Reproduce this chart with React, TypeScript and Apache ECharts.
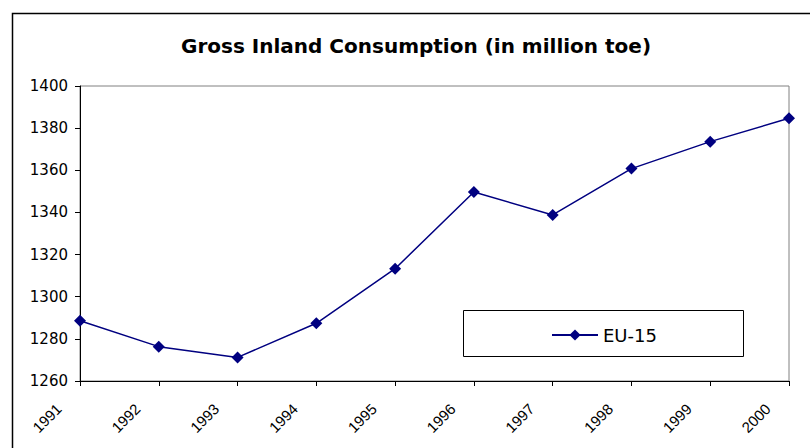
import React, { useEffect, useRef } from "react";
import * as echarts from "echarts";

const years = ["1991", "1992", "1993", "1994", "1995", "1996", "1997", "1998", "1999", "2000"];
const eu15 = [1288.6, 1276.3, 1271.2, 1287.4, 1313.3, 1349.7, 1338.8, 1360.8, 1373.6, 1384.7];
const seriesName = "EU-15";
const titleText = "Gross Inland Consumption (in million toe)";

const FONT = "'DejaVu Sans', 'Liberation Sans', Arial, sans-serif";
const FONT2 = "'Liberation Sans', Arial, sans-serif";

export default function App() {
  const ref = useRef<HTMLDivElement>(null);
  useEffect(() => {
    if (!ref.current) return;
    const chart = echarts.init(ref.current, null, { renderer: "svg" });
    chart.setOption({
      animation: false,
      backgroundColor: "#ffffff",
      title: {
        text: titleText,
        left: 176,
        top: 31,
        textStyle: { fontFamily: FONT, fontSize: 20, fontWeight: "bold", color: "#000" },
      },
      graphic: [
        {
          type: "rect",
          shape: { x: 12.5, y: 13.5, width: 900, height: 600 },
          style: { fill: "none", stroke: "#000", lineWidth: 1.5 },
          silent: true,
          z: 0,
        },
        {
          type: "rect",
          shape: { x: 463.5, y: 310.5, width: 280, height: 46 },
          style: { fill: "#fff", stroke: "#000", lineWidth: 1 },
          silent: true,
          z: 5,
        },
      ],
      legend: {
        data: [seriesName],
        left: 546,
        top: 321,
        itemWidth: 46,
        itemHeight: 14,
        itemGap: 5,
        textStyle: { fontFamily: FONT, fontSize: 18, color: "#000" },
        z: 10,
      },
      grid: {
        left: 80,
        top: 86,
        right: 21,
        bottom: 67,
        show: true,
        borderColor: "#808080",
        borderWidth: 1,
        backgroundColor: "#fff",
      },
      xAxis: {
        type: "category",
        data: years,
        boundaryGap: false,
        axisLine: { lineStyle: { color: "#000", width: 1 } },
        axisTick: { show: true, inside: false, length: 5, alignWithLabel: true, lineStyle: { color: "#000" } },
        axisLabel: {
          rotate: 45,
          margin: 4,
          padding: [0, 30, 0, 0],
          fontFamily: FONT2,
          fontSize: 15,
          color: "#000",
          interval: 0,
        },
        splitLine: { show: false },
      },
      yAxis: {
        type: "value",
        min: 1260,
        max: 1400,
        interval: 20,
        axisLine: { show: true, lineStyle: { color: "#000", width: 1 } },
        axisTick: { show: true, length: 5, lineStyle: { color: "#000" } },
        axisLabel: {
          fontFamily: FONT,
          fontSize: 15,
          color: "#000",
          margin: 12,
          formatter: (v: number) => String(v),
        },
        splitLine: { show: false },
      },
      series: [
        {
          name: seriesName,
          type: "line",
          data: eu15,
          symbol: "diamond",
          symbolSize: 12,
          itemStyle: { color: "#000080" },
          lineStyle: { color: "#000080", width: 1.5 },
          z: 3,
        },
      ],
    });
    return () => chart.dispose();
  }, []);
  return (
    <div
      ref={ref}
      style={{ position: "fixed", left: 0, top: 0, width: 810, height: 448, background: "#fff" }}
    />
  );
}
